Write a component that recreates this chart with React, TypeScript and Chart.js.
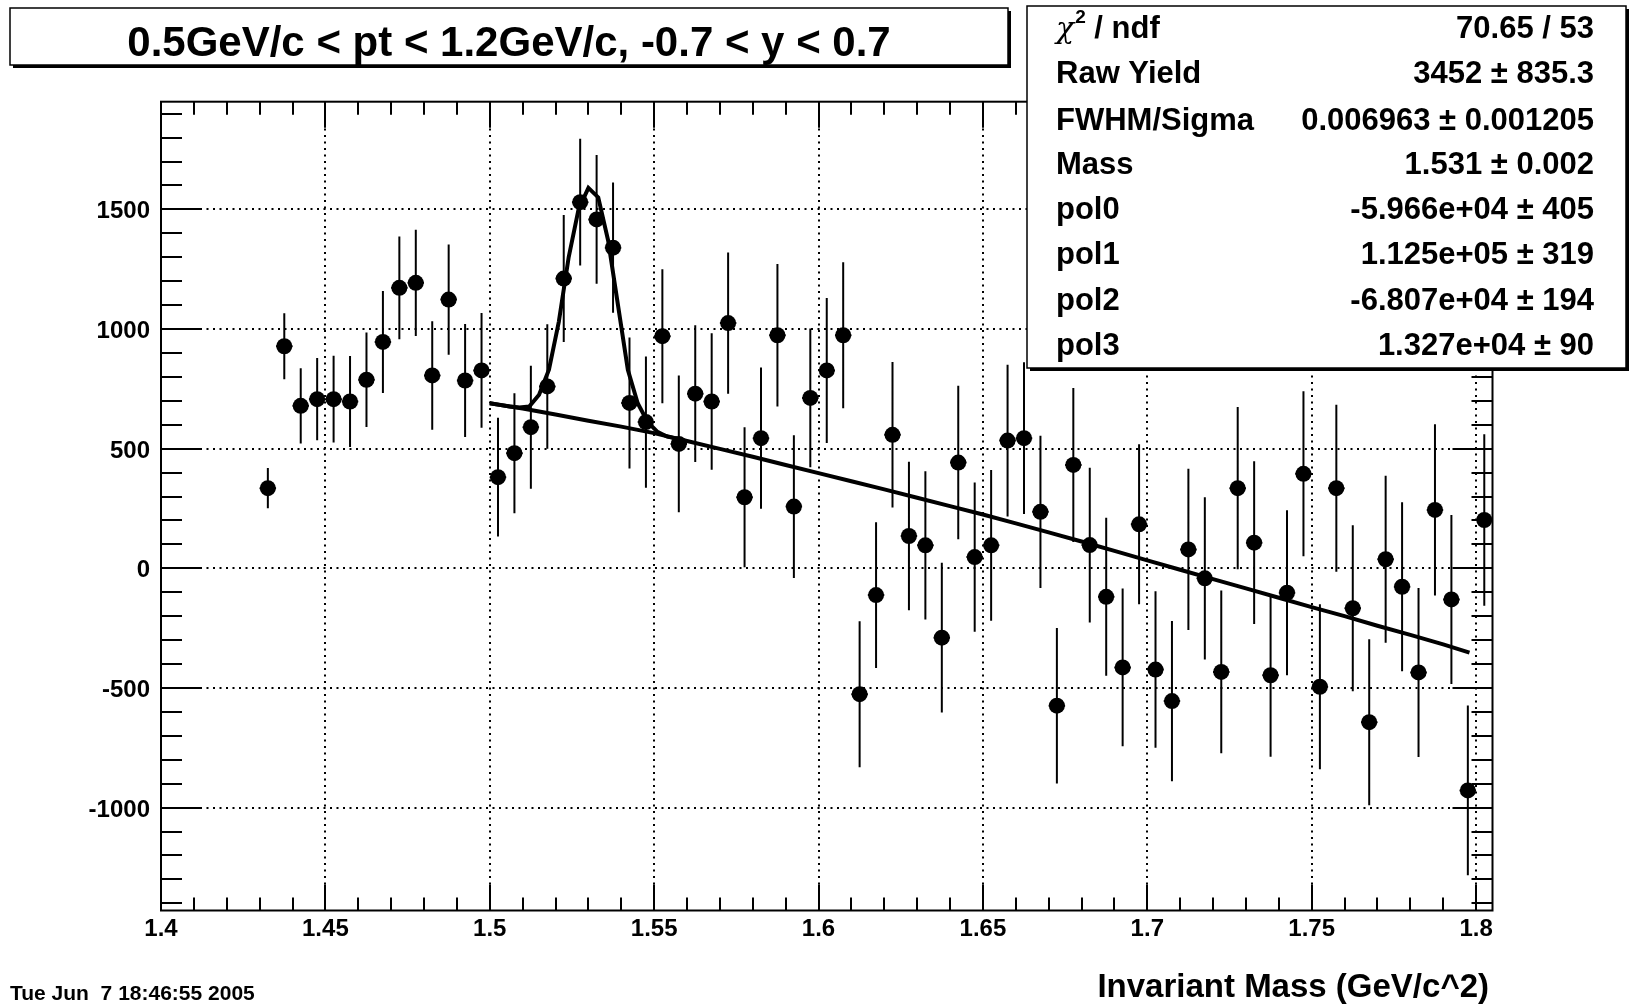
import React, { useEffect, useRef } from "react";
import { Chart, registerables } from "chart.js";

Chart.register(...registerables);

// ---------------- data ----------------
const massBins = [
  1.4325, 1.4375, 1.4425, 1.4475, 1.4525, 1.4575, 1.4625, 1.4675, 1.4725, 1.4775,
  1.4825, 1.4875, 1.4925, 1.4975, 1.5025, 1.5075, 1.5125, 1.5175, 1.5225, 1.5275,
  1.5325, 1.5375, 1.5425, 1.5475, 1.5525, 1.5575, 1.5625, 1.5675, 1.5725, 1.5775,
  1.5825, 1.5875, 1.5925, 1.5975, 1.6025, 1.6075, 1.6125, 1.6175, 1.6225, 1.6275,
  1.6325, 1.6375, 1.6425, 1.6475, 1.6525, 1.6575, 1.6625, 1.6675, 1.6725, 1.6775,
  1.6825, 1.6875, 1.6925, 1.6975, 1.7025, 1.7075, 1.7125, 1.7175, 1.7225, 1.7275,
  1.7325, 1.7375, 1.7425, 1.7475, 1.7525, 1.7575, 1.7625, 1.7675, 1.7725, 1.7775,
  1.7825, 1.7875, 1.7925, 1.7975, 1.8025,
];

const yieldValues = [
  335, 928, 679, 707, 707, 697, 788, 946, 1172, 1193,
  806, 1123, 785, 827, 381, 481, 590, 760, 1211, 1530,
  1458, 1340, 691, 611, 970, 520, 730, 697, 1025, 297,
  544, 974, 258, 712, 827, 974, -526, -112, 558, 135,
  96, -290, 442, 47, 96, 534, 544, 236, -574, 432,
  97, -119, -414, 184, -423, -555, 79, -42, -433, 335,
  107, -447, -102, 395, -495, 335, -167, -643, 38, -77,
  -435, 244, -130, -928, 202,
];

const yieldErrors = [
  84, 138, 157, 172, 181, 190, 197, 213, 215, 222,
  227, 230, 236, 240, 248, 251, 257, 260, 265, 265,
  269, 272, 274, 274, 280, 286, 286, 285, 295, 293,
  295, 298, 298, 290, 303, 305, 305, 305, 304, 310,
  310, 313, 321, 312, 315, 317, 317, 318, 325, 322,
  323, 330, 330, 334, 327, 335, 337, 339, 340, 339,
  340, 340, 345, 345, 345, 349, 347, 347, 349, 353,
  353, 358, 353, 355, 358,
];

// fitted curve (gaussian + pol3)
const peakFitX = [1.5, 1.503, 1.506, 1.509, 1.512, 1.515, 1.518, 1.521, 1.524, 1.527, 1.53, 1.533, 1.536, 1.539, 1.542, 1.545, 1.548, 1.551, 1.554, 1.557];
const peakFitY = [690, 683, 676, 672, 676, 725, 830, 1030, 1300, 1500, 1590, 1550, 1370, 1100, 830, 690, 612, 570, 550, 542];

// background (pol3) part of the fit
const bgFitX = [1.5, 1.51, 1.52, 1.53, 1.54, 1.55, 1.56, 1.57, 1.58, 1.59, 1.6, 1.61, 1.62, 1.63, 1.64, 1.65, 1.66, 1.67, 1.68, 1.69, 1.7, 1.71, 1.72, 1.73, 1.74, 1.75, 1.76, 1.77, 1.78, 1.79, 1.798];
const bgFitY = [690, 668, 643, 617, 592, 565, 532, 499, 466, 432, 398, 364, 330, 295, 260, 225, 188, 150, 112, 73, 33, -6, -45, -84, -123, -162, -200, -240, -278, -318, -352];

const xTickValues = [1.4, 1.45, 1.5, 1.55, 1.6, 1.65, 1.7, 1.75, 1.8];
const xTickLabels = ["1.4", "1.45", "1.5", "1.55", "1.6", "1.65", "1.7", "1.75", "1.8"];
const yTickValues = [-1000, -500, 0, 500, 1000, 1500];
const yTickLabels = ["-1000", "-500", "0", "500", "1000", "1500"];

const titleText = "0.5GeV/c < pt < 1.2GeV/c, -0.7 < y < 0.7";
const xAxisTitle = "Invariant Mass (GeV/c^2)";
const dateText = "Tue Jun  7 18:46:55 2005";

const statLabels = ["chi2/ndf", "Raw Yield", "FWHM/Sigma", "Mass", "pol0", "pol1", "pol2", "pol3"];
const statValues = [
  "70.65 / 53",
  "3452 \u00b1 835.3",
  "0.006963 \u00b1 0.001205",
  "1.531 \u00b1 0.002",
  "-5.966e+04 \u00b1 405",
  "1.125e+05 \u00b1 319",
  "-6.807e+04 \u00b1 194",
  "1.327e+04 \u00b1 90",
];

const X_MIN = 1.4;
const X_MAX = 1.805;
const Y_MIN = -1430;
const Y_MAX = 1950;
const X_MINOR_STEP = 0.01;
const X_MINOR_PER_MAJOR = 5;
const Y_MINOR_STEP = 100;
const Y_MINOR_PER_MAJOR = 5;
const HALF_BIN = 0.0025;

// ---------------- layout / style ----------------
const W = 1633;
const H = 1007;
const FRAME = { left: 161, top: 101.7, right: 1492.5, bottom: 910.5 };
const FONT = "'Liberation Sans', Arial, Helvetica, sans-serif";
const TITLE_BOX = { x1: 10, y1: 8, x2: 1008, y2: 65 };
const STATS_BOX = { x1: 1027, y1: 6, x2: 1626, y2: 368 };
const STAT_BASELINES = [37.5, 83, 130, 173.5, 218.5, 264, 310, 355];

function drawPave(ctx: CanvasRenderingContext2D, b: { x1: number; y1: number; x2: number; y2: number }) {
  ctx.save();
  ctx.setLineDash([]);
  ctx.fillStyle = "#fff";
  ctx.fillRect(b.x1, b.y1, b.x2 - b.x1, b.y2 - b.y1);
  ctx.strokeStyle = "#000";
  ctx.lineWidth = 1.5;
  ctx.strokeRect(b.x1, b.y1, b.x2 - b.x1, b.y2 - b.y1);
  ctx.fillStyle = "#000";
  ctx.fillRect(b.x2, b.y1 + 3, 3, b.y2 - b.y1);
  ctx.fillRect(b.x1 + 3, b.y2, b.x2 - b.x1, 3);
  ctx.restore();
}

const rootStylePlugin = {
  id: "rootStyle",
  beforeDraw(chart: any) {
    const ctx = chart.ctx as CanvasRenderingContext2D;
    ctx.save();
    ctx.fillStyle = "#fff";
    ctx.fillRect(0, 0, chart.width, chart.height);
    ctx.restore();
  },
  beforeDatasetsDraw(chart: any) {
    const ctx = chart.ctx as CanvasRenderingContext2D;
    const xs = chart.scales.x;
    const ys = chart.scales.y;
    const { left, right, top, bottom } = chart.chartArea;
    // dotted grid
    ctx.save();
    ctx.strokeStyle = "#000";
    ctx.lineWidth = 2;
    ctx.setLineDash([2, 4.5]);
    ctx.beginPath();
    xTickValues.forEach((v) => {
      const px = Math.round(xs.getPixelForValue(v));
      ctx.moveTo(px, bottom);
      ctx.lineTo(px, top);
    });
    yTickValues.forEach((v) => {
      const py = Math.round(ys.getPixelForValue(v));
      ctx.moveTo(left, py);
      ctx.lineTo(right, py);
    });
    ctx.stroke();
    ctx.restore();

    // error bars
    ctx.save();
    ctx.beginPath();
    ctx.rect(left, top, right - left, bottom - top);
    ctx.clip();
    ctx.strokeStyle = "#000";
    ctx.lineWidth = 2;
    ctx.setLineDash([]);
    ctx.beginPath();
    massBins.forEach((m, i) => {
      const px = xs.getPixelForValue(m);
      const y0 = ys.getPixelForValue(yieldValues[i]);
      ctx.moveTo(px, ys.getPixelForValue(yieldValues[i] + yieldErrors[i]));
      ctx.lineTo(px, ys.getPixelForValue(yieldValues[i] - yieldErrors[i]));
      ctx.moveTo(xs.getPixelForValue(m - HALF_BIN), y0);
      ctx.lineTo(xs.getPixelForValue(m + HALF_BIN), y0);
    });
    ctx.stroke();
    ctx.restore();
  },
  afterDatasetsDraw(chart: any) {
    const ctx = chart.ctx as CanvasRenderingContext2D;
    const xs = chart.scales.x;
    const ys = chart.scales.y;
    const { left, right, top, bottom } = chart.chartArea;

    // ticks on all four sides
    ctx.save();
    ctx.strokeStyle = "#000";
    ctx.lineWidth = 2;
    ctx.setLineDash([]);
    ctx.beginPath();
    for (let k = 0; ; k++) {
      const v = X_MIN + k * X_MINOR_STEP;
      if (v > X_MAX + 1e-9) break;
      const major = k % X_MINOR_PER_MAJOR === 0;
      const len = major ? 26 : 13;
      const px = Math.round(xs.getPixelForValue(v));
      ctx.moveTo(px, bottom);
      ctx.lineTo(px, bottom - len);
      ctx.moveTo(px, top);
      ctx.lineTo(px, top + len);
    }
    const yStart = Math.ceil(Y_MIN / Y_MINOR_STEP);
    for (let k = yStart; k * Y_MINOR_STEP <= Y_MAX; k++) {
      const v = k * Y_MINOR_STEP;
      const major = k % Y_MINOR_PER_MAJOR === 0;
      const len = major ? 40 : 21;
      const py = Math.round(ys.getPixelForValue(v));
      ctx.moveTo(left, py);
      ctx.lineTo(left + len, py);
      ctx.moveTo(right, py);
      ctx.lineTo(right - len, py);
    }
    ctx.stroke();
    // frame
    ctx.strokeRect(left, top, right - left, bottom - top);
    ctx.restore();

    // tick labels
    ctx.save();
    ctx.fillStyle = "#000";
    ctx.font = `bold 24px ${FONT}`;
    ctx.textBaseline = "alphabetic";
    ctx.textAlign = "center";
    xTickValues.forEach((v, i) => {
      ctx.fillText(xTickLabels[i], xs.getPixelForValue(v), 936);
    });
    ctx.textAlign = "right";
    yTickValues.forEach((v, i) => {
      ctx.fillText(yTickLabels[i], left - 11, ys.getPixelForValue(v) + 9);
    });

    // axis title and date
    ctx.font = `bold 33px ${FONT}`;
    ctx.textAlign = "right";
    ctx.fillText(xAxisTitle, 1489, 997);
    ctx.font = `bold 21px ${FONT}`;
    ctx.textAlign = "left";
    ctx.fillText(dateText, 10, 1000);
    ctx.restore();

    // title pave
    drawPave(ctx, TITLE_BOX);
    ctx.save();
    ctx.fillStyle = "#000";
    ctx.font = `bold 42px ${FONT}`;
    ctx.textAlign = "center";
    ctx.textBaseline = "alphabetic";
    ctx.fillText(titleText, (TITLE_BOX.x1 + TITLE_BOX.x2) / 2, 56);
    ctx.restore();

    // stats pave
    drawPave(ctx, STATS_BOX);
    ctx.save();
    ctx.fillStyle = "#000";
    ctx.textBaseline = "alphabetic";
    const labelX = 1056;
    const valueX = 1594;
    statLabels.forEach((lab, i) => {
      const by = STAT_BASELINES[i];
      ctx.textAlign = "left";
      if (i === 0) {
        ctx.font = `italic 30px 'DejaVu Serif', 'Liberation Serif', serif`;
        ctx.fillText("\u03c7", labelX, by);
        let x = labelX + ctx.measureText("\u03c7").width + 1;
        ctx.font = `bold 19px ${FONT}`;
        ctx.fillText("2", x, by - 15);
        x += ctx.measureText("2").width;
        ctx.font = `bold 31px ${FONT}`;
        ctx.fillText(" / ndf", x, by);
      } else {
        ctx.font = `bold 31px ${FONT}`;
        ctx.fillText(lab, labelX, by);
      }
      ctx.font = `bold 31px ${FONT}`;
      ctx.textAlign = "right";
      ctx.fillText(statValues[i], valueX, by);
    });
    ctx.restore();
  },
};

export default function App() {
  const canvasRef = useRef<HTMLCanvasElement | null>(null);

  useEffect(() => {
    const canvas = canvasRef.current;
    if (!canvas) return;
    const points = massBins.map((m, i) => ({ x: m, y: yieldValues[i] }));
    const peak = peakFitX.map((x, i) => ({ x, y: peakFitY[i] }));
    const bg = bgFitX.map((x, i) => ({ x, y: bgFitY[i] }));

    const chart = new Chart(canvas, {
      type: "scatter",
      data: {
        datasets: [
          {
            label: "fit",
            data: peak,
            showLine: true,
            borderColor: "#000",
            borderWidth: 4,
            pointRadius: 0,
            tension: 0,
            order: 0,
          } as any,
          {
            label: "background",
            data: bg,
            showLine: true,
            borderColor: "#000",
            borderWidth: 4,
            pointRadius: 0,
            tension: 0,
            order: 1,
          } as any,
          {
            label: "yield",
            data: points,
            showLine: false,
            pointRadius: 8,
            pointStyle: "circle",
            backgroundColor: "#000",
            borderColor: "#000",
            borderWidth: 0,
            order: 2,
          } as any,
        ],
      },
      options: {
        animation: false,
        responsive: false,
        maintainAspectRatio: false,
        devicePixelRatio: 1,
        events: [],
        layout: {
          padding: {
            left: FRAME.left,
            top: FRAME.top,
            right: W - FRAME.right,
            bottom: H - FRAME.bottom,
          },
        },
        plugins: {
          legend: { display: false },
          tooltip: { enabled: false },
          title: { display: false },
        },
        scales: {
          x: { type: "linear", min: X_MIN, max: X_MAX, display: false },
          y: { type: "linear", min: Y_MIN, max: Y_MAX, display: false },
        },
      } as any,
      plugins: [rootStylePlugin as any],
    });
    return () => chart.destroy();
  }, []);

  return (
    <div style={{ position: "absolute", left: 0, top: 0, width: W, height: H, background: "#fff" }}>
      <canvas ref={canvasRef} width={W} height={H} style={{ display: "block", width: W, height: H }} />
    </div>
  );
}
